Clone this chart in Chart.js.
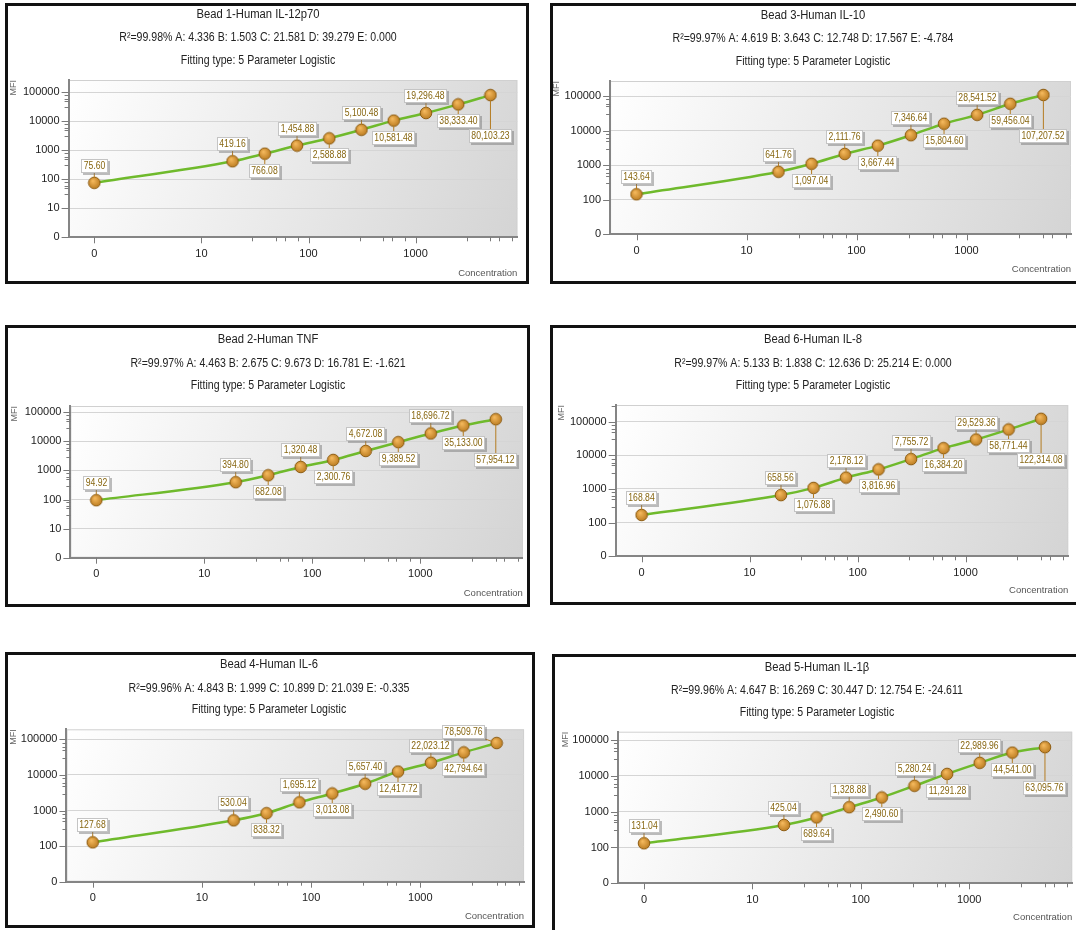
<!DOCTYPE html>
<html>
<head>
<meta charset="utf-8">
<title>Curvas padrão 5PL</title>
<script src="https://cdn.jsdelivr.net/npm/chart.js@4.4.1/dist/chart.umd.min.js"></script>
<style>
  html, body { margin: 0; padding: 0; background: #fff; }
  body { width: 1076px; height: 930px; position: relative; overflow: hidden; }
  .painel { position: absolute; border: 3px solid #111; box-sizing: border-box; }
  canvas { position: absolute; }
</style>
</head>
<body>
<script>
// Dados das curvas padrão
const titulos = ['Bead 1-Human IL-12p70', 'Bead 3-Human IL-10', 'Bead 2-Human TNF', 'Bead 6-Human IL-8', 'Bead 4-Human IL-6', 'Bead 5-Human IL-1β'];
const concentracoes = [0, 19.53, 39.06, 78.13, 156.25, 312.5, 625, 1250, 2500, 5000];
const mfiIL12p70 = [75.60, 419.16, 766.08, 1454.88, 2588.88, 5100.48, 10581.48, 19296.48, 38333.40, 80103.23];
const mfiIL10 = [143.64, 641.76, 1097.04, 2111.76, 3667.44, 7346.64, 15804.60, 28541.52, 59456.04, 107207.52];
const mfiTNF = [94.92, 394.80, 682.08, 1320.48, 2300.76, 4672.08, 9389.52, 18696.72, 35133.00, 57954.12];
const mfiIL8 = [168.84, 658.56, 1076.88, 2178.12, 3816.96, 7755.72, 16384.20, 29529.36, 58771.44, 122314.08];
const mfiIL6 = [127.68, 530.04, 838.32, 1695.12, 3013.08, 5657.40, 12417.72, 22023.12, 42794.64, 78509.76];
const mfiIL1b = [131.04, 425.04, 689.64, 1328.88, 2490.60, 5280.24, 11291.28, 22989.96, 44541.00, 63095.76];
const series = [mfiIL12p70, mfiIL10, mfiTNF, mfiIL8, mfiIL6, mfiIL1b];

// Parâmetros do ajuste
const r2 = [99.98, 99.97, 99.97, 99.97, 99.96, 99.96];
const parA = [4.336, 4.619, 4.463, 5.133, 4.843, 4.647];
const parB = [1.503, 3.643, 2.675, 1.838, 1.999, 16.269];
const parC = [21.581, 12.748, 9.673, 12.636, 10.899, 30.447];
const parD = [39.279, 17.567, 16.781, 25.214, 21.039, 12.754];
const parE = [0.000, -4.784, -1.621, 0.000, -0.335, -24.611];

// Eixos
const xTicks = [1, 10, 100, 1000];       // o 1 aparece como "0"
const yPiso = [1, 10, 1, 10, 10, 10];    // valor mostrado como "0" no eixo Y
const yTopo = 100000;
const menores = [3, 5, 6, 8];

// Posição de cada quadro na página
const paineis = [
    { caixa: [5, 3, 524, 281], x0: 94.3, dx: 107.1, yTop: 92.3, yBase: 237.3, topo: 80, tx: 258, ty: [15, 38, 61], mfiX: 14, concY: 273 },
    { caixa: [550, 3, 534, 281], x0: 636.5, dx: 110, yTop: 96, yBase: 234.3, topo: 81, tx: 813, ty: [16, 39, 61.5], mfiX: 557, concY: 269 },
    { caixa: [5, 325, 525, 282], x0: 96.3, dx: 108, yTop: 412.3, yBase: 557.7, topo: 406, tx: 268, ty: [340, 364, 386], mfiX: 15, concY: 593 },
    { caixa: [550, 325, 534, 280], x0: 641.6, dx: 108, yTop: 421.7, yBase: 556.3, topo: 405, tx: 813, ty: [340, 363.5, 385.5], mfiX: 562, concY: 590 },
    { caixa: [5, 652, 530, 276], x0: 92.7, dx: 109.2, yTop: 739.3, yBase: 881.7, topo: 729.3, tx: 269, ty: [665, 688.5, 710], mfiX: 14, concY: 916, ultimoAcima: true },
    { caixa: [552, 654, 532, 284], x0: 644, dx: 108.4, yTop: 740, yBase: 883.3, topo: 731.7, tx: 817, ty: [668, 691, 712.5], mfiX: 566, concY: 917 }
];

const fonte = "'Liberation Sans', Arial, sans-serif";
Chart.defaults.font.family = fonte;
const xLogMin = -0.24, xLogMax = 3.95;

function ehDecada(v) {
    const l = Math.log10(v);
    return Math.abs(l - Math.round(l)) < 1e-6;
}

function listaTicks(piso, max) {
    const lista = [];
    for (let d = piso; d <= max; d *= 10) {
        lista.push(d);
        if (d > piso) {
            menores.forEach(m => { if (d * m <= max) lista.push(d * m); });
        }
    }
    return lista.sort((a, b) => a - b);
}

// Texto mais estreito (a fonte original é condensada)
function textoEstreito(ctx, texto, x, y, escala) {
    ctx.save();
    ctx.translate(x, y);
    ctx.scale(escala, 1);
    ctx.fillText(texto, 0, 0);
    ctx.restore();
}

// Desenho do ponto (círculo laranja)
function criarPonto() {
    const c = document.createElement('canvas');
    c.width = 14; c.height = 14;
    const g = c.getContext('2d');
    const grad = g.createRadialGradient(5.5, 5, 0.5, 7, 7, 7);
    grad.addColorStop(0, '#f4b85c');
    grad.addColorStop(1, '#b5751a');
    g.beginPath();
    g.arc(7, 7, 5.8, 0, Math.PI * 2);
    g.fillStyle = grad;
    g.fill();
    g.lineWidth = 1;
    g.strokeStyle = '#8d5c12';
    g.stroke();
    return c;
}
const imgPonto = criarPonto();

// Fundo da área do gráfico
const fundo = {
    id: 'fundo',
    beforeDraw(chart) {
        const { ctx, chartArea: a } = chart;
        ctx.save();
        const g = ctx.createLinearGradient(a.left, a.top, a.right, a.bottom);
        g.addColorStop(0, '#ffffff');
        g.addColorStop(1, '#d4d4d4');
        ctx.fillStyle = g;
        ctx.fillRect(a.left, a.top, a.right - a.left, a.bottom - a.top);
        ctx.strokeStyle = '#d0d0d0';
        ctx.lineWidth = 1;
        ctx.strokeRect(a.left + 0.5, a.top + 0.5, a.right - a.left - 1, a.bottom - a.top - 1);
        ctx.restore();
    }
};

// Marcas dos eixos (maiores e menores)
const marcas = {
    id: 'marcas',
    beforeDatasetsDraw(chart) {
        const { ctx, chartArea: a, scales } = chart;
        ctx.save();
        ctx.strokeStyle = '#7a7a7a';
        ctx.lineWidth = 1;
        ctx.beginPath();
        scales.x.ticks.forEach(t => {
            const px = Math.round(scales.x.getPixelForValue(t.value)) + 0.5;
            const len = ehDecada(t.value) ? 5 : 3;
            ctx.moveTo(px, a.bottom);
            ctx.lineTo(px, a.bottom + len + 1);
        });
        scales.y.ticks.forEach(t => {
            const py = Math.round(scales.y.getPixelForValue(t.value)) + 0.5;
            const len = ehDecada(t.value) ? 6 : 3;
            ctx.moveTo(a.left - len - 1, py);
            ctx.lineTo(a.left, py);
        });
        ctx.stroke();
        ctx.restore();
    }
};

// Rótulos com os valores de MFI
const rotulos = {
    id: 'rotulos',
    afterDatasetsDraw(chart, args, opts) {
        const { ctx } = chart;
        const meta = chart.getDatasetMeta(0);
        const valores = chart.data.datasets[0].data;
        const n = meta.data.length;
        const escala = 0.82;
        ctx.save();
        ctx.font = '10.5px ' + fonte;
        meta.data.forEach((pt, i) => {
            const texto = valores[i].y.toLocaleString('en-US', { minimumFractionDigits: 2, maximumFractionDigits: 2 });
            let dx = 0, dy;
            if (i === n - 1) {
                if (opts.ultimoAcima) { dx = -33; dy = -11; } else { dy = 41; }
            } else if (i < 2) {
                dy = -17;
            } else {
                dy = i % 2 === 0 ? 17 : -17;
            }
            const w = Math.round(ctx.measureText(texto).width * escala) + 5;
            const h = 14;
            const cx = pt.x + dx, cy = pt.y + dy;
            const l = Math.round(cx - w / 2), t = Math.round(cy - h / 2);
            // linha de ligação
            const ex = Math.min(Math.max(pt.x, l), l + w);
            const ey = Math.min(Math.max(pt.y, t), t + h);
            const ang = Math.atan2(ey - pt.y, ex - pt.x);
            ctx.strokeStyle = '#b47c22';
            ctx.lineWidth = 1;
            ctx.beginPath();
            ctx.moveTo(pt.x + 5 * Math.cos(ang), pt.y + 5 * Math.sin(ang));
            ctx.lineTo(ex, ey);
            ctx.stroke();
            // caixa com sombra
            ctx.fillStyle = 'rgba(110,110,110,0.45)';
            ctx.fillRect(l + 2, t + 2, w, h);
            ctx.fillStyle = '#ffffff';
            ctx.fillRect(l, t, w, h);
            ctx.strokeStyle = '#c4c4c4';
            ctx.strokeRect(l + 0.5, t + 0.5, w - 1, h - 1);
            ctx.fillStyle = '#876610';
            ctx.textAlign = 'center';
            ctx.textBaseline = 'middle';
            textoEstreito(ctx, texto, l + w / 2, t + h / 2 + 0.5, escala);
        });
        ctx.restore();
    }
};

// Títulos do quadro
const cabecalho = {
    id: 'cabecalho',
    afterDraw(chart, args, opts) {
        const { ctx } = chart;
        ctx.save();
        ctx.fillStyle = '#222';
        ctx.textAlign = 'center';
        ctx.textBaseline = 'middle';
        opts.linhas.forEach((linha, k) => {
            ctx.font = (k === 0 ? '12.5px ' : '12px ') + fonte;
            textoEstreito(ctx, linha, opts.x, opts.y[k], k === 0 ? 0.9 : 0.88);
        });
        ctx.restore();
    }
};

function montarPainel(i) {
    const p = paineis[i];
    const [bx, by, bw, bh] = p.caixa;

    const div = document.createElement('div');
    div.className = 'painel';
    div.style.left = bx + 'px';
    div.style.top = by + 'px';
    div.style.width = bw + 'px';
    div.style.height = bh + 'px';
    document.body.appendChild(div);

    const cx = bx - 8, cy = by, cw = bw + 16, ch = bh;
    const canvas = document.createElement('canvas');
    canvas.width = cw;
    canvas.height = ch;
    canvas.style.left = cx + 'px';
    canvas.style.top = cy + 'px';
    canvas.style.width = cw + 'px';
    canvas.style.height = ch + 'px';
    document.body.appendChild(canvas);

    const piso = yPiso[i];
    const plotL = p.x0 + xLogMin * p.dx;
    const plotR = p.x0 + xLogMax * p.dx;
    const yDec = (p.yBase - p.yTop) / (Math.log10(yTopo) - Math.log10(piso));
    const yLogMax = Math.log10(yTopo) + (p.yTop - p.topo) / yDec;
    const padL = p.mfiX - cx - 5.4;
    const yW = plotL - cx - padL;
    const padR = cx + cw - plotR;
    const padT = p.topo - cy;
    const xH = p.concY + 6 - p.yBase;
    const padB = cy + ch - p.yBase - xH;

    const ticksX = listaTicks(1, 10 ** xLogMax).filter(v => v < 10 ** xLogMax);
    const ticksY = listaTicks(piso, 10 ** yLogMax);

    const linhas = [
        titulos[i],
        'R²=' + r2[i].toFixed(2) + '% A: ' + parA[i].toFixed(3) + ' B: ' + parB[i].toFixed(3) +
            ' C: ' + parC[i].toFixed(3) + ' D: ' + parD[i].toFixed(3) + ' E: ' + parE[i].toFixed(3),
        'Fitting type: 5 Parameter Logistic'
    ];

    new Chart(canvas.getContext('2d'), {
        type: 'line',
        data: {
            datasets: [{
                data: concentracoes.map((c, k) => ({ x: c === 0 ? xTicks[0] : c, y: series[i][k] })),
                borderColor: '#6fba2c',
                borderWidth: 2.5,
                pointStyle: imgPonto,
                pointRadius: 6,
                cubicInterpolationMode: 'monotone',
                fill: false,
                clip: false
            }]
        },
        options: {
            responsive: false,
            animation: false,
            layout: { padding: { left: padL, right: padR, top: padT, bottom: padB } },
            plugins: {
                legend: { display: false },
                tooltip: { enabled: false },
                title: { display: false },
                rotulos: { ultimoAcima: !!p.ultimoAcima },
                cabecalho: { linhas: linhas, x: p.tx - cx, y: p.ty.map(v => v - cy) }
            },
            scales: {
                x: {
                    type: 'logarithmic',
                    min: 10 ** xLogMin,
                    max: 10 ** xLogMax,
                    afterBuildTicks: s => { s.ticks = ticksX.map(v => ({ value: v })); },
                    afterFit: s => { s.height = xH; },
                    ticks: {
                        autoSkip: false,
                        maxRotation: 0,
                        padding: 10,
                        color: '#222',
                        font: { size: 11 },
                        callback: v => (v === xTicks[0] ? '0' : (ehDecada(v) ? String(v) : ''))
                    },
                    grid: { color: 'rgba(0,0,0,0)', drawTicks: false },
                    border: { color: '#858585', width: 2 },
                    title: { display: true, text: 'Concentration', align: 'end', padding: 0, color: '#555', font: { size: 9.5 } }
                },
                y: {
                    type: 'logarithmic',
                    min: piso,
                    max: 10 ** yLogMax,
                    afterBuildTicks: s => { s.ticks = ticksY.map(v => ({ value: v })); },
                    afterFit: s => { s.width = yW; },
                    ticks: {
                        autoSkip: false,
                        padding: 9,
                        color: '#222',
                        font: { size: 11 },
                        callback: v => (v === piso ? '0' : (ehDecada(v) ? String(v) : ''))
                    },
                    grid: {
                        drawTicks: false,
                        color: c => (c.tick && ehDecada(c.tick.value) && c.tick.value > piso ? '#d5d5d5' : 'rgba(0,0,0,0)')
                    },
                    border: { color: '#858585', width: 2 },
                    title: { display: true, text: 'MFI', align: 'end', padding: 0, color: '#666', font: { size: 9 } }
                }
            }
        },
        plugins: [fundo, marcas, rotulos, cabecalho]
    });
}

// Monta os seis quadros
for (let i = 0; i < paineis.length; i++) {
    montarPainel(i);
}
</script>
</body>
</html>
